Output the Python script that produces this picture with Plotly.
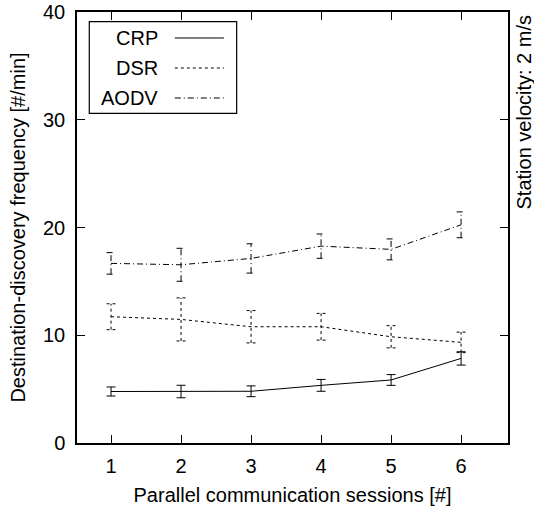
import plotly.graph_objects as go

sessions = [1, 2, 3, 4, 5, 6]
series_names = ["CRP", "DSR", "AODV"]
crp = [4.78, 4.78, 4.8, 5.35, 5.85, 7.85]
crp_err = [0.42, 0.58, 0.5, 0.55, 0.5, 0.62]
dsr = [11.72, 11.47, 10.79, 10.79, 9.86, 9.34]
dsr_err = [1.2, 2.0, 1.5, 1.24, 1.03, 0.95]
aodv = [16.67, 16.54, 17.13, 18.27, 17.97, 20.25]
aodv_err = [1.0, 1.53, 1.36, 1.13, 0.97, 1.2]
y_ticks = [0, 10, 20, 30, 40]
x_label = "Parallel communication sessions [#]"
y_label = "Destination-discovery frequency [#/min]"
side_label = "Station velocity: 2 m/s"

FONT = "Liberation Sans, Arial, sans-serif"
FS = 20
dashes = ["solid", "3px,3px", "6px,3px,1px,3px"]
values = [crp, dsr, aodv]
errors = [crp_err, dsr_err, aodv_err]
cap = 0.064

fig = go.Figure()
for name, ys, es, dash in zip(series_names, values, errors, dashes):
    fig.add_trace(go.Scatter(x=sessions, y=ys, mode="lines", name=name,
                             line=dict(color="black", width=1, dash=dash),
                             showlegend=False))
    ex, ey = [], []
    for x, y, e in zip(sessions, ys, es):
        lo, hi = y - e, y + e
        ex += [x, x, None, x - cap, x + cap, None, x - cap, x + cap, None]
        ey += [lo, hi, None, lo, lo, None, hi, hi, None]
    fig.add_trace(go.Scatter(x=ex, y=ey, mode="lines", showlegend=False,
                             line=dict(color="black", width=1, dash=dash),
                             hoverinfo="skip"))

# manual legend (text right-aligned, sample line on the right)
fig.add_shape(type="rect", xref="paper", yref="paper", x0=0.0285, x1=0.3705,
              y0=0.765, y1=0.9775, line=dict(color="black", width=1.2),
              fillcolor="white", layer="above")
rows = [0.9397, 0.8700, 0.8005]
for name, dash, ry in zip(series_names, dashes, rows):
    fig.add_annotation(xref="paper", yref="paper", x=0.1926, y=ry, text=name,
                       showarrow=False, xanchor="right", yanchor="middle",
                       font=dict(family=FONT, size=FS, color="black"))
    fig.add_shape(type="line", xref="paper", yref="paper", x0=0.227, x1=0.341,
                  y0=ry, y1=ry, line=dict(color="black", width=1, dash=dash),
                  layer="above")

fig.add_annotation(xref="paper", yref="paper", x=1.0, xshift=15, y=1.0, yshift=-1,
                   text=side_label, textangle=-90, showarrow=False,
                   xanchor="center", yanchor="top",
                   font=dict(family=FONT, size=FS, color="black"))

axis_common = dict(showline=True, linecolor="black", linewidth=1.5, mirror="allticks",
                   ticks="inside", ticklen=8, tickcolor="black", tickwidth=1,
                   showgrid=False, zeroline=False, automargin=False,
                   tickfont=dict(family=FONT, size=FS, color="black"))
fig.update_xaxes(range=[0.514, 6.67], tickvals=sessions, ticktext=[str(s) for s in sessions],
                 ticklabelstandoff=4,
                 title=dict(text=x_label, font=dict(family=FONT, size=FS, color="black"), standoff=12),
                 **axis_common)
fig.update_yaxes(range=[0, 40], tickvals=y_ticks, ticktext=[str(t) for t in y_ticks],
                 ticklabelstandoff=6,
                 title=dict(text=y_label, font=dict(family=FONT, size=FS, color="black"), standoff=12),
                 **axis_common)
fig.update_layout(width=534, height=508, margin=dict(l=77, r=26, t=12, b=65),
                  plot_bgcolor="white", paper_bgcolor="white", showlegend=False)
fig.write_html("out.html")
